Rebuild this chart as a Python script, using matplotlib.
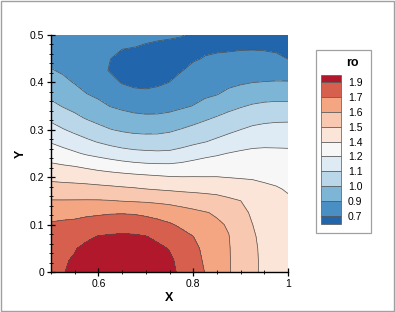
import numpy as np
import matplotlib
matplotlib.use("Agg")
import matplotlib.pyplot as plt
from matplotlib.patches import Rectangle

plt.rcParams['font.family'] = ['Liberation Sans', 'DejaVu Sans']

# ---- data: ro sampled on a grid (one list per x column, y = 0 .. 0.5) ---
x_vals = [0.500, 0.525, 0.550, 0.575, 0.600, 0.625, 0.650, 0.675, 0.700, 0.725, 0.750,
          0.775, 0.800, 0.825, 0.850, 0.875, 0.900, 0.925, 0.950, 0.975, 1.000]
y_vals = [0.000, 0.025, 0.050, 0.075, 0.100, 0.125, 0.150, 0.175, 0.200, 0.225, 0.250,
          0.275, 0.300, 0.325, 0.350, 0.375, 0.400, 0.425, 0.450, 0.475, 0.500]

ro_x0500 = [1.864, 1.859, 1.846, 1.821, 1.776, 1.707, 1.637, 1.553, 1.470, 1.387, 1.308,
            1.231, 1.157, 1.083, 1.010, 0.951, 0.905, 0.857, 0.821, 0.792, 0.766]
ro_x0525 = [1.886, 1.880, 1.861, 1.832, 1.786, 1.716, 1.637, 1.549, 1.462, 1.374, 1.284,
            1.198, 1.118, 1.044, 0.974, 0.924, 0.875, 0.837, 0.811, 0.785, 0.759]
ro_x0550 = [1.907, 1.899, 1.884, 1.835, 1.789, 1.726, 1.638, 1.546, 1.455, 1.362, 1.256,
            1.166, 1.083, 1.007, 0.945, 0.890, 0.844, 0.821, 0.798, 0.776, 0.753]
ro_x0575 = [1.942, 1.932, 1.912, 1.872, 1.808, 1.735, 1.639, 1.543, 1.445, 1.343, 1.226,
            1.133, 1.049, 0.971, 0.912, 0.853, 0.808, 0.769, 0.755, 0.751, 0.753]
ro_x0600 = [1.958, 1.949, 1.926, 1.894, 1.821, 1.742, 1.639, 1.536, 1.434, 1.322, 1.204,
            1.102, 1.014, 0.942, 0.879, 0.829, 0.790, 0.749, 0.737, 0.743, 0.749]
ro_x0625 = [1.968, 1.958, 1.936, 1.902, 1.833, 1.750, 1.635, 1.529, 1.423, 1.305, 1.180,
            1.075, 0.985, 0.915, 0.847, 0.798, 0.749, 0.713, 0.721, 0.733, 0.746]
ro_x0650 = [1.973, 1.963, 1.939, 1.906, 1.839, 1.752, 1.627, 1.520, 1.414, 1.288, 1.159,
            1.054, 0.966, 0.894, 0.827, 0.766, 0.714, 0.689, 0.701, 0.725, 0.741]
ro_x0675 = [1.971, 1.960, 1.937, 1.903, 1.834, 1.748, 1.621, 1.512, 1.405, 1.273, 1.144,
            1.040, 0.953, 0.880, 0.810, 0.743, 0.701, 0.681, 0.694, 0.721, 0.736]
ro_x0700 = [1.959, 1.950, 1.929, 1.893, 1.819, 1.734, 1.616, 1.501, 1.396, 1.263, 1.136,
            1.035, 0.949, 0.872, 0.803, 0.738, 0.698, 0.681, 0.691, 0.715, 0.733]
ro_x0725 = [1.938, 1.929, 1.911, 1.868, 1.799, 1.715, 1.608, 1.492, 1.387, 1.258, 1.131,
            1.036, 0.950, 0.872, 0.807, 0.749, 0.704, 0.681, 0.689, 0.711, 0.729]
ro_x0750 = [1.913, 1.903, 1.885, 1.829, 1.773, 1.694, 1.600, 1.484, 1.378, 1.257, 1.133,
            1.044, 0.963, 0.880, 0.819, 0.771, 0.721, 0.694, 0.688, 0.707, 0.727]
ro_x0775 = [1.872, 1.867, 1.841, 1.795, 1.741, 1.673, 1.587, 1.475, 1.374, 1.267, 1.153,
            1.062, 0.987, 0.903, 0.834, 0.795, 0.755, 0.716, 0.691, 0.694, 0.725]
ro_x0800 = [1.816, 1.807, 1.793, 1.761, 1.707, 1.655, 1.573, 1.470, 1.374, 1.283, 1.182,
            1.084, 1.011, 0.935, 0.853, 0.815, 0.779, 0.743, 0.711, 0.698, 0.704]
ro_x0825 = [1.757, 1.744, 1.731, 1.691, 1.663, 1.637, 1.557, 1.466, 1.373, 1.295, 1.208,
            1.106, 1.035, 0.963, 0.885, 0.831, 0.795, 0.760, 0.725, 0.704, 0.701]
ro_x0850 = [1.699, 1.692, 1.682, 1.666, 1.646, 1.617, 1.542, 1.461, 1.373, 1.301, 1.226,
            1.133, 1.058, 0.990, 0.916, 0.846, 0.807, 0.769, 0.732, 0.707, 0.701]
ro_x0875 = [1.639, 1.638, 1.637, 1.633, 1.620, 1.572, 1.520, 1.449, 1.367, 1.305, 1.244,
            1.162, 1.084, 1.016, 0.948, 0.877, 0.824, 0.781, 0.738, 0.707, 0.701]
ro_x0900 = [1.583, 1.581, 1.577, 1.569, 1.555, 1.533, 1.501, 1.430, 1.362, 1.310, 1.257,
            1.188, 1.111, 1.041, 0.971, 0.901, 0.837, 0.790, 0.743, 0.710, 0.701]
ro_x0925 = [1.529, 1.526, 1.521, 1.513, 1.501, 1.484, 1.451, 1.409, 1.360, 1.313, 1.265,
            1.206, 1.135, 1.063, 0.992, 0.920, 0.849, 0.797, 0.745, 0.711, 0.701]
ro_x0950 = [1.474, 1.474, 1.474, 1.470, 1.461, 1.443, 1.419, 1.390, 1.353, 1.310, 1.266,
            1.213, 1.146, 1.078, 1.005, 0.929, 0.854, 0.797, 0.740, 0.710, 0.701]
ro_x0975 = [1.461, 1.460, 1.456, 1.449, 1.440, 1.426, 1.406, 1.380, 1.341, 1.302, 1.263,
            1.214, 1.152, 1.085, 1.010, 0.935, 0.858, 0.794, 0.732, 0.708, 0.698]
ro_x1000 = [1.448, 1.445, 1.440, 1.432, 1.422, 1.406, 1.386, 1.360, 1.326, 1.292, 1.260,
            1.214, 1.152, 1.087, 1.010, 0.935, 0.858, 0.786, 0.719, 0.707, 0.694]

levels = [0.72, 0.85, 0.98, 1.11, 1.24, 1.37, 1.50, 1.63, 1.76, 1.89]
level_labels = ["0.7", "0.9", "1.0", "1.1", "1.2", "1.4", "1.5", "1.6", "1.7", "1.9"]
band_colors = ['#2166ac', '#4a8fc4', '#7db5d7', '#b9d7e9', '#deebf4', '#f7f7f7',
               '#fbe5d8', '#f8c8b0', '#f4a582', '#d6604d', '#b2182b']

x_ticks = [0.6, 0.8, 1.0]
x_ticklabels = ["0.6", "0.8", "1"]
y_ticks = [0, 0.1, 0.2, 0.3, 0.4, 0.5]
y_ticklabels = ["0", "0.1", "0.2", "0.3", "0.4", "0.5"]

# ---- figure -------------------------------------------------------------
W, H = 395, 312
fig = plt.figure(figsize=(W / 100, H / 100), dpi=100)
fig.patch.set_facecolor('white')

ax = fig.add_axes([51 / W, 1 - 272 / H, 237 / W, 237 / H])
columns = [ro_x0500, ro_x0525, ro_x0550, ro_x0575, ro_x0600, ro_x0625, ro_x0650,
           ro_x0675, ro_x0700, ro_x0725, ro_x0750, ro_x0775, ro_x0800, ro_x0825,
           ro_x0850, ro_x0875, ro_x0900, ro_x0925, ro_x0950, ro_x0975, ro_x1000]
Z = np.array(columns).T          # rows = y, cols = x
X, Y = np.meshgrid(x_vals, y_vals)
fill_levels = [0.0] + levels + [3.0]
ax.contourf(X, Y, Z, levels=fill_levels, colors=band_colors)
ax.contour(X, Y, Z, levels=levels, colors='#4d4d4d', linewidths=0.5)

ax.set_xlim(0.5, 1.0)
ax.set_ylim(0.0, 0.5)
for s in ['top', 'right']:
    ax.spines[s].set_visible(False)
for s in ['left', 'bottom']:
    ax.spines[s].set_linewidth(1.0)
    ax.spines[s].set_color('black')

ax.set_xticks(x_ticks)
ax.set_xticklabels(x_ticklabels)
ax.set_yticks(y_ticks)
ax.set_yticklabels(y_ticklabels)
ax.set_xticks(np.arange(0.5, 1.0001, 0.05), minor=True)
ax.set_yticks(np.arange(0.0, 0.5001, 0.02), minor=True)
ax.tick_params(which='major', direction='inout', length=6, width=0.9,
               labelsize=7.5, pad=2)
ax.tick_params(which='minor', direction='inout', length=3, width=0.6)
ax.set_xlabel('X', fontsize=9, fontweight='bold', labelpad=2)
ax.set_ylabel('Y', fontsize=9, fontweight='bold', labelpad=2)

# ---- legend (pixel coordinate overlay) ---------------------------------
lax = fig.add_axes([0, 0, 1, 1])
lax.set_xlim(0, W)
lax.set_ylim(H, 0)
lax.axis('off')
lax.patch.set_alpha(0)

lax.add_patch(Rectangle((0.5, 0.5), W - 1.5, H - 1.5, fill=False,
                        edgecolor='#a0a0a0', linewidth=1.0))
lax.add_patch(Rectangle((316, 49.5), 55, 183.5, fill=False,
                        edgecolor='#a0a0a0', linewidth=0.9))
lax.text(352, 63, 'ro', fontsize=9, fontweight='bold', ha='center', va='center')

sw_x, sw_w = 321, 20
top = 74.5
full = 14.9
half = full / 2
n = len(band_colors)
heights = [half] + [full] * (n - 2) + [half]
yy = top
for k, h in zip(list(range(n))[::-1], heights):
    lax.add_patch(Rectangle((sw_x, yy), sw_w, h, facecolor=band_colors[k],
                            edgecolor='#555555', linewidth=0.5))
    yy += h

yb = top + half
for lab in level_labels[::-1]:
    lax.text(348, yb + 1, lab, fontsize=7.5, ha='left', va='center')
    yb += full

fig.savefig('out.png', dpi=100)
